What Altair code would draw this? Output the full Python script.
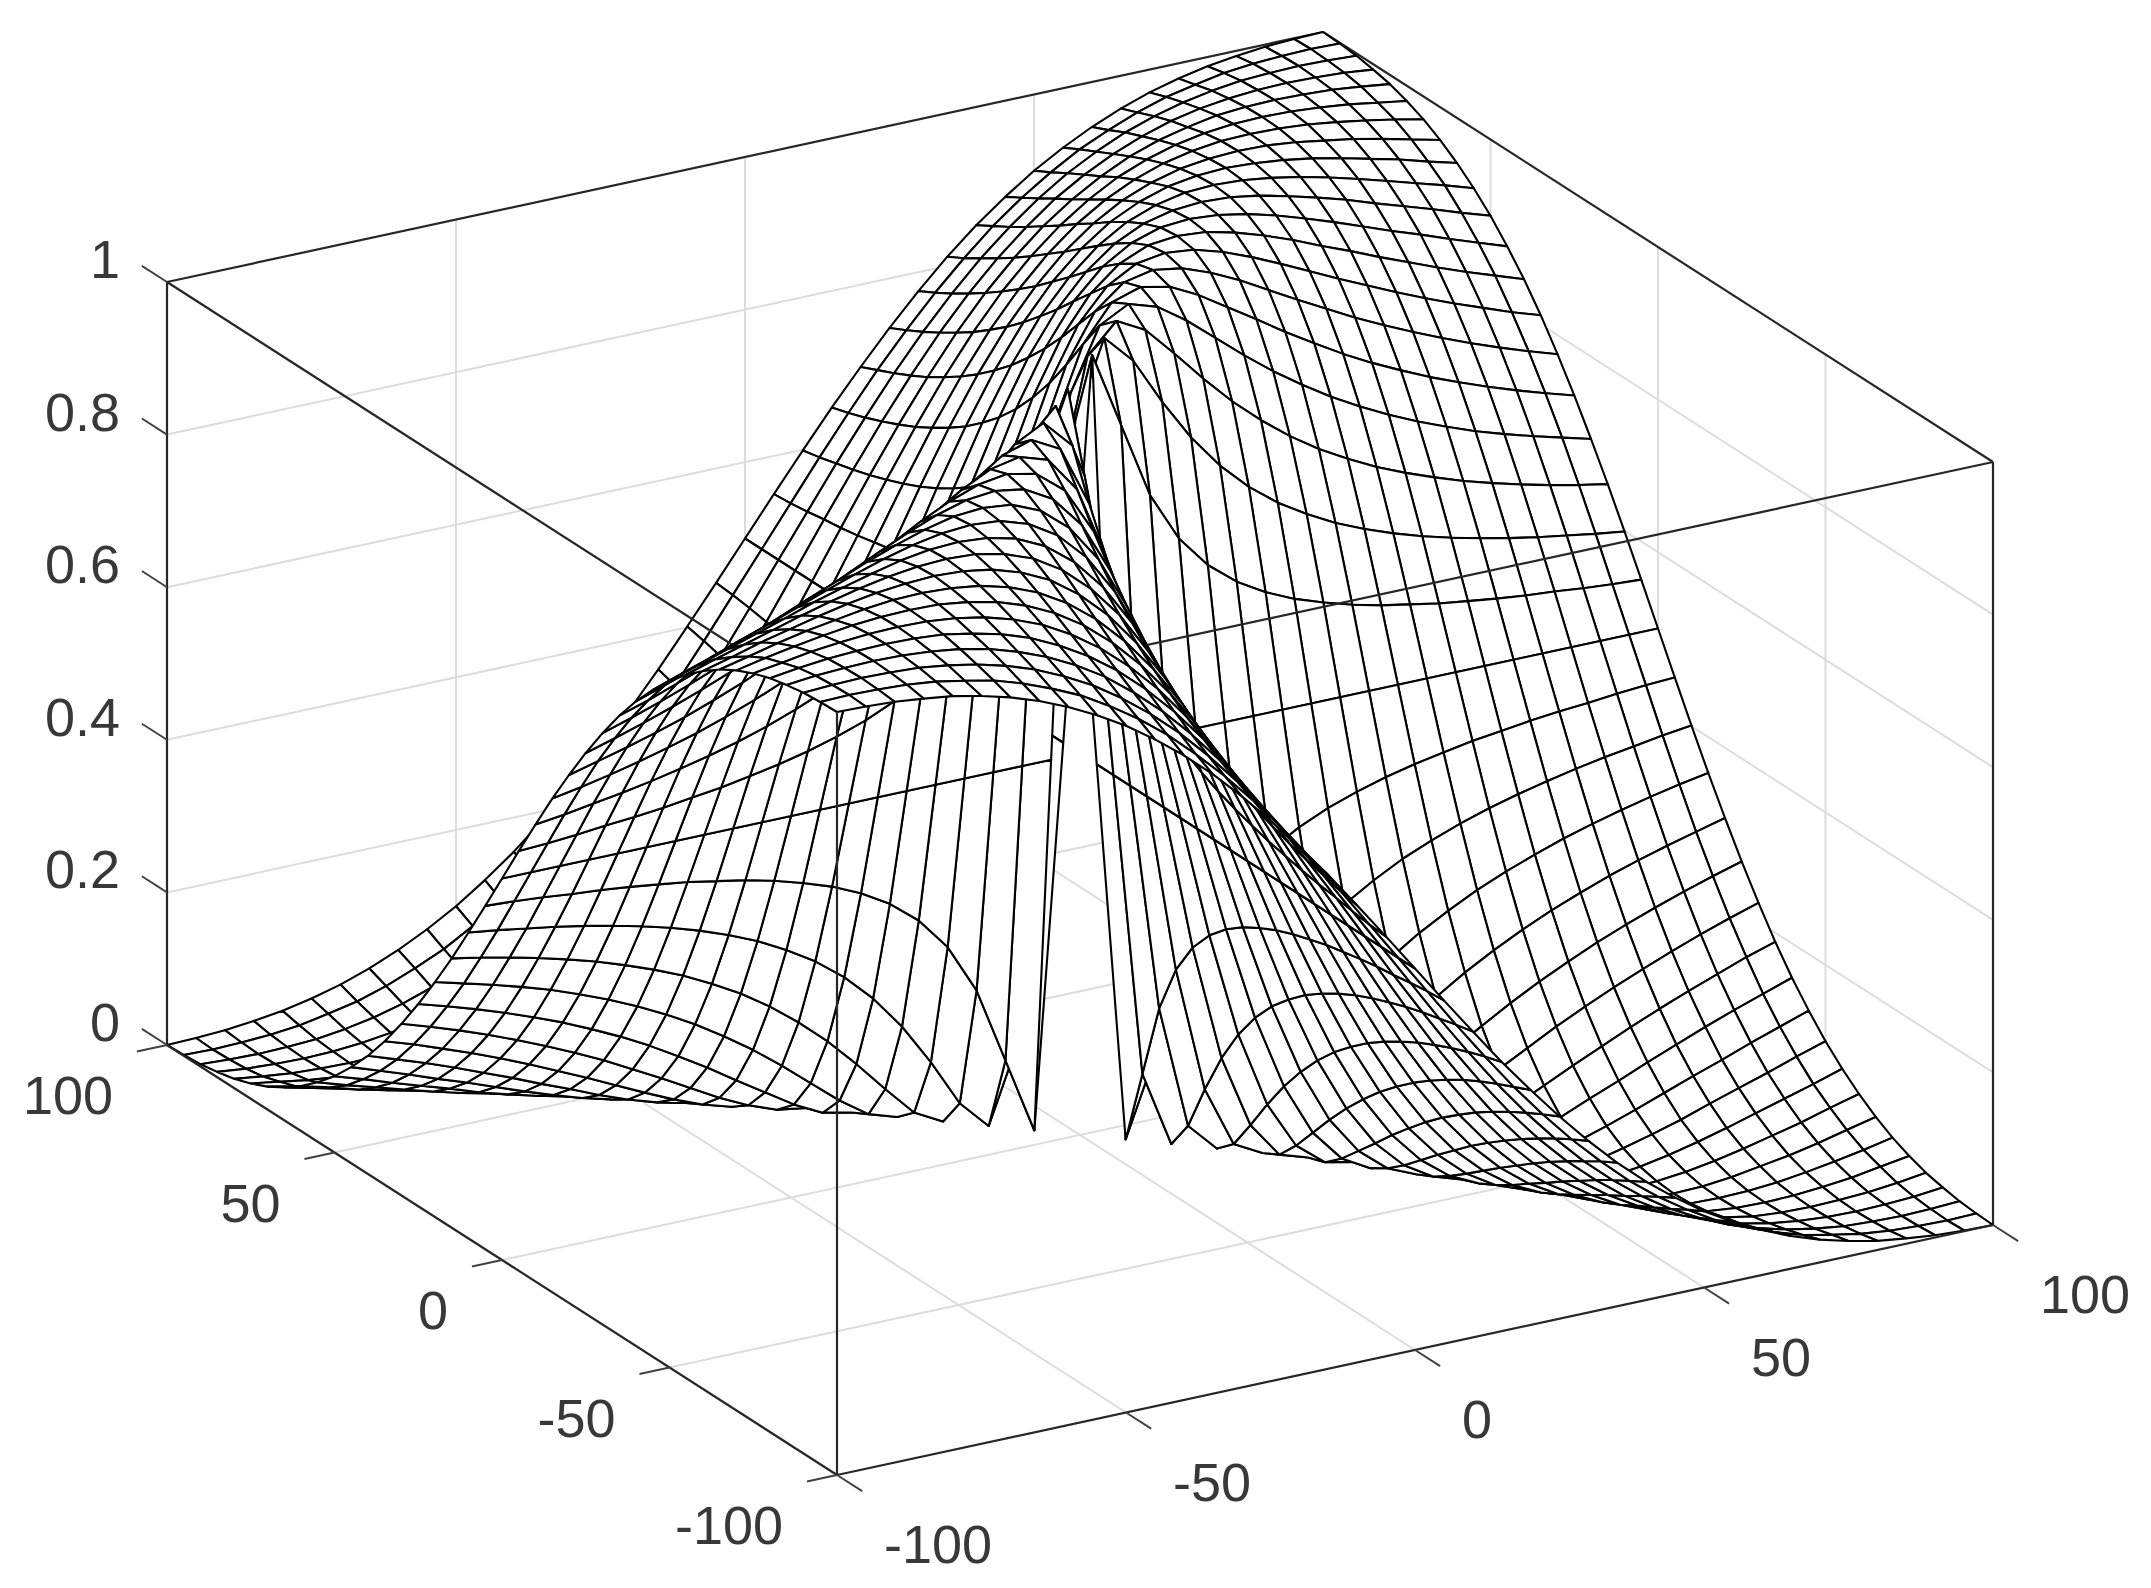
import altair as alt
import pandas as pd

alt.data_transformers.disable_max_rows()

# Mesh grid: 41 lines per side, with a hole at the origin.
GRID = list(range(-100, 105, 5))
MID_LEVEL = 500  # height (thousandths) along x=0 and y=0

# Estimated height offset from MID_LEVEL, in thousandths, for one quadrant.
# Rows y=5..100, columns x=5..100. Hand-tabulated from a shape fitted to
# points checked on the picture; added where x and y share a sign, else subtracted.
RISE = [
 [500,400,300,235,192,162,140,123,110, 99, 90, 83, 76, 71, 66, 62, 59, 55, 52, 50],
 [400,500,462,400,345,300,264,235,212,192,176,162,150,140,131,123,116,110,104, 99],
 [300,462,500,480,441,400,362,329,300,275,254,235,219,205,192,181,171,162,154,147],
 [235,400,480,500,488,462,431,400,371,345,321,300,281,264,249,235,223,212,202,192],
 [192,345,441,488,500,492,473,449,425,400,377,355,335,317,300,285,271,258,246,235],
 [162,300,400,462,492,500,494,480,462,441,420,400,380,362,345,329,314,300,287,275],
 [140,264,362,431,473,494,500,496,485,470,453,435,417,400,383,367,352,338,324,312],
 [123,235,329,400,449,480,496,500,497,488,476,462,446,431,415,400,385,371,358,345],
 [110,212,300,371,425,462,485,497,500,497,490,480,468,455,441,427,414,400,387,374],
 [ 99,192,275,345,400,441,470,488,497,500,498,492,483,473,462,449,437,425,412,400],
 [ 90,176,254,321,377,420,453,476,490,498,500,498,493,486,477,467,456,445,434,422],
 [ 83,162,235,300,355,400,435,462,480,492,498,500,498,494,488,480,471,462,451,441],
 [ 76,150,219,281,335,380,417,446,468,483,493,498,500,499,495,489,483,475,466,457],
 [ 71,140,205,264,317,362,400,431,455,473,486,494,499,500,499,496,491,485,478,470],
 [ 66,131,192,249,300,345,383,415,441,462,477,488,495,499,500,499,496,492,486,480],
 [ 62,123,181,235,285,329,367,400,427,449,467,480,489,496,499,500,499,497,493,488],
 [ 59,116,171,223,271,314,352,385,414,437,456,471,483,491,496,499,500,499,497,493],
 [ 55,110,162,212,258,300,338,371,400,425,445,462,475,485,492,497,499,500,499,497],
 [ 52,104,154,202,246,287,324,358,387,412,434,451,466,478,486,493,497,499,500,499],
 [ 50, 99,147,192,235,275,312,345,374,400,422,441,457,470,480,488,493,497,499,500],
]

X_TICKS = [-100, -50, 0, 50, 100]
X_LABELS = ["-100", "-50", "0", "50", "100"]
Y_TICKS = [-100, -50, 0, 50, 100]
Y_LABELS = ["-100", "-50", "0", "50", "100"]
Z_TICKS = [0, 0.2, 0.4, 0.6, 0.8, 1]
Z_LABELS = ["0", "0.2", "0.4", "0.6", "0.8", "1"]

# Orthographic camera calibration (page pixels)
FRONT = (837.0, 1475.0)
LEFT = (167.0, 1045.0)
RIGHT = (1993.0, 1225.0)
ZSPAN = 763.0


def project(x, y, z):
    a = (x + 100) / 200
    b = (y + 100) / 200
    return (
        FRONT[0] + a * (RIGHT[0] - FRONT[0]) + b * (LEFT[0] - FRONT[0]),
        FRONT[1] + a * (RIGHT[1] - FRONT[1]) + b * (LEFT[1] - FRONT[1]) - z * ZSPAN,
    )


def height(x, y):
    if x == 0 and y == 0:
        return None
    if x == 0 or y == 0:
        return MID_LEVEL / 1000
    r = RISE[abs(y) // 5 - 1][abs(x) // 5 - 1]
    return (MID_LEVEL + r if x * y > 0 else MID_LEVEL - r) / 1000


# Faces, far to near; the sheet behind the valley is kept apart from the one before it,
# because the front-top box edges pass between the two.
rows = []
fid = 0
for ix in range(len(GRID) - 2, -1, -1):
    for iy in range(len(GRID) - 2, -1, -1):
        corners = [(GRID[ix], GRID[iy]), (GRID[ix + 1], GRID[iy]),
                   (GRID[ix + 1], GRID[iy + 1]), (GRID[ix], GRID[iy + 1]),
                   (GRID[ix], GRID[iy])]
        zs = [height(cx, cy) for cx, cy in corners]
        if any(v is None for v in zs):
            continue
        sheet = "back" if GRID[ix] + GRID[iy] + 5 >= 0 else "front"
        for k, ((cx, cy), cz) in enumerate(zip(corners, zs)):
            px, py = project(cx, cy, cz)
            rows.append({"face": fid, "k": k, "px": round(px, 2), "py": round(py, 2), "sheet": sheet})
        fid += 1
faces = pd.DataFrame(rows)


def seg(a, b):
    p, q = project(*a), project(*b)
    return {"px": p[0], "py": p[1], "px2": q[0], "py2": q[1]}


grid_segs = []
for t in [-50, 0, 50]:
    grid_segs.append(seg((t, -100, 0), (t, 100, 0)))
    grid_segs.append(seg((-100, t, 0), (100, t, 0)))
    grid_segs.append(seg((t, 100, 0), (t, 100, 1)))
    grid_segs.append(seg((100, t, 0), (100, t, 1)))
for zt in Z_TICKS[1:-1]:
    grid_segs.append(seg((-100, 100, zt), (100, 100, zt)))
    grid_segs.append(seg((100, 100, zt), (100, -100, zt)))
grid_segs.append(seg((100, 100, 0), (100, 100, 1)))
grid_segs.append(seg((-100, 100, 0), (100, 100, 0)))
grid_segs.append(seg((100, 100, 0), (100, -100, 0)))

back_segs = [
    seg((-100, 100, 1), (100, 100, 1)),
    seg((100, 100, 1), (100, -100, 1)),
    seg((-100, 100, 0), (-100, 100, 1)),
    seg((100, -100, 0), (100, -100, 1)),
]
top_front_segs = [
    seg((-100, -100, 1), (-100, 100, 1)),
    seg((-100, -100, 1), (100, -100, 1)),
]
front_segs = [
    seg((-100, -100, 0), (-100, 100, 0)),
    seg((-100, -100, 0), (100, -100, 0)),
    seg((-100, -100, 0), (-100, -100, 1)),
]
TICK_X = 5.2    # tick length in x units
TICK_Y = 7.5    # tick length in y units
tick_segs = []
for t in X_TICKS:
    tick_segs.append(seg((t, -100, 0), (t, -100 - TICK_Y, 0)))
for t in Y_TICKS:
    tick_segs.append(seg((-100, t, 0), (-100 - TICK_X, t, 0)))
for zt in Z_TICKS:
    tick_segs.append(seg((-100, 100, zt), (-100, 100 + TICK_Y, zt)))

labels = []
for t, s in zip(X_TICKS, X_LABELS):
    p = project(t, -100, 0)
    labels.append({"px": p[0] + 47, "py": p[1] + 72, "s": s, "a": "left"})
for t, s in zip(Y_TICKS, Y_LABELS):
    p = project(-100, t, 0)
    labels.append({"px": p[0] - 54, "py": p[1] + 53, "s": s, "a": "right"})
for zt, s in zip(Z_TICKS, Z_LABELS):
    p = project(-100, 100, zt)
    labels.append({"px": p[0] - 47, "py": p[1] - 20, "s": s, "a": "right"})
labels = pd.DataFrame(labels)

W, H = 2135, 1572
XS = alt.Scale(domain=[8, 8 + W], nice=False, zero=False)
YS = alt.Scale(domain=[8 + H, 8], nice=False, zero=False)


def rules(data, color, width):
    return alt.Chart(pd.DataFrame(data)).mark_rule(color=color, strokeWidth=width).encode(
        x=alt.X("px:Q", scale=XS, axis=None), x2="px2:Q",
        y=alt.Y("py:Q", scale=YS, axis=None), y2="py2:Q",
    )


def mesh(sheet):
    return alt.Chart(faces[faces.sheet == sheet]).mark_line(
        fill="white", stroke="#000000", strokeWidth=2.1, strokeJoin="round", interpolate="linear"
    ).encode(
        x=alt.X("px:Q", scale=XS, axis=None),
        y=alt.Y("py:Q", scale=YS, axis=None),
        detail="face:N",
        order="k:Q",
    )


def text_layer(align):
    return alt.Chart(labels[labels.a == align]).mark_text(
        font="Liberation Sans", fontSize=54, color="#383838", align=align, baseline="middle"
    ).encode(
        x=alt.X("px:Q", scale=XS, axis=None),
        y=alt.Y("py:Q", scale=YS, axis=None),
        text="s:N",
    )


chart = alt.layer(
    rules(grid_segs, "#dcdcdc", 2),
    rules(back_segs, "#262626", 2.2),
    mesh("back"),
    rules(top_front_segs, "#262626", 2.2),
    mesh("front"),
    rules(front_segs, "#262626", 2.2),
    rules(tick_segs, "#404040", 1.9),
    text_layer("left"),
    text_layer("right"),
).properties(
    width=W, height=H, padding=0, autosize=alt.AutoSizeParams(type="none"), background="white"
).configure_view(strokeWidth=0)

chart.save("out.html", embed_options={"renderer": "svg", "actions": False})
